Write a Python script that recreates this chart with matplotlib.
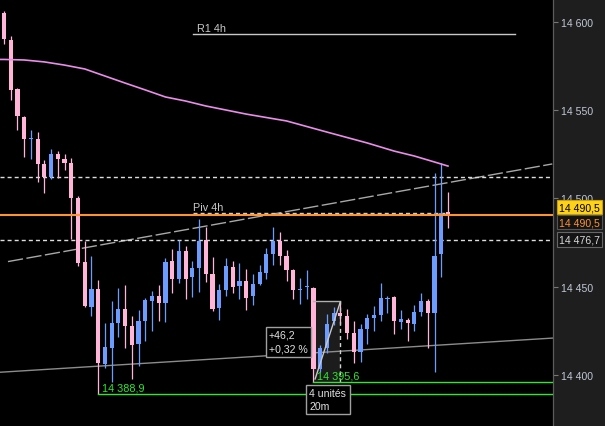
import matplotlib
matplotlib.use("Agg")
import matplotlib.pyplot as plt
from matplotlib.patches import Rectangle
from matplotlib.transforms import blended_transform_factory
from matplotlib.ticker import FuncFormatter, FixedLocator

plt.rcParams['font.family'] = ['Liberation Sans', 'DejaVu Sans']

# ---- candle data (5 min bars) ----
opens = [14605.3, 14589.9, 14562.1, 14546.2, 14533.6, 14533.8, 14519.6, 14512.2, 14525.2, 14522.4,
         14520.1, 14500.3, 14463.9, 14438.6, 14448.6, 14406.1, 14415.1, 14429.3, 14437.3, 14427.6,
         14417.4, 14430.5, 14441.8, 14444.7, 14440.7, 14464.5, 14454.3, 14470.2, 14455.4, 14460.5,
         14476.4, 14457.1, 14437.8, 14448.1, 14461.1, 14450.3, 14453.2, 14444.7, 14451.5, 14457.7,
         14468.5, 14475.9, 14467.4, 14459.4, 14448.3, 14449.5, 14449.2, 14403.2, 14415.1, 14430.5,
         14435.0, 14433.3, 14423.7, 14412.9, 14425.9, 14432.2, 14433.9, 14443.2, 14444.1, 14429.9,
         14431.0, 14428.8, 14435.6, 14441.8, 14435.0, 14468.5, 14492.3]
highs = [14606.4, 14592.2, 14562.5, 14546.8, 14538.9, 14537.9, 14521.8, 14528.1, 14526.9, 14525.2,
         14523.0, 14501.4, 14476.0, 14467.4, 14453.7, 14429.3, 14441.8, 14449.2, 14450.9, 14433.5,
         14436.7, 14443.5, 14447.5, 14450.9, 14466.2, 14471.3, 14476.4, 14473.0, 14464.5, 14488.4,
         14483.8, 14466.8, 14451.5, 14466.2, 14464.5, 14463.4, 14460.0, 14457.1, 14462.3, 14471.9,
         14483.8, 14481.0, 14470.8, 14460.0, 14454.9, 14459.4, 14449.8, 14416.8, 14434.4, 14438.4,
         14441.8, 14437.3, 14430.5, 14428.8, 14434.4, 14439.0, 14452.0, 14444.7, 14444.7, 14436.7,
         14432.2, 14439.6, 14446.4, 14443.0, 14514.5, 14520.1, 14503.7]
lows = [14587.7, 14556.1, 14539.0, 14523.7, 14522.4, 14509.5, 14503.1, 14511.0, 14511.6, 14516.2,
        14477.0, 14461.7, 14438.4, 14433.5, 14388.9, 14403.8, 14395.8, 14421.4, 14415.1, 14397.6,
        14405.1, 14419.1, 14424.8, 14430.5, 14429.9, 14446.4, 14452.0, 14443.0, 14444.1, 14446.9,
        14452.6, 14436.1, 14431.0, 14444.7, 14446.4, 14443.0, 14436.7, 14439.6, 14450.9, 14454.3,
        14462.3, 14462.3, 14453.2, 14443.0, 14440.1, 14443.0, 14395.6, 14401.5, 14412.3, 14428.2,
        14428.8, 14420.3, 14406.6, 14407.2, 14417.4, 14424.8, 14430.5, 14435.0, 14423.1, 14425.9,
        14419.1, 14424.8, 14433.3, 14415.1, 14401.5, 14455.4, 14483.2]
closes = [14590.5, 14561.7, 14547.0, 14533.9, 14534.0, 14519.6, 14512.4, 14525.2, 14522.4, 14520.1,
          14500.3, 14463.4, 14439.2, 14448.6, 14406.6, 14415.7, 14429.3, 14437.3, 14427.8, 14416.8,
          14430.5, 14442.4, 14444.7, 14440.7, 14463.9, 14454.3, 14470.2, 14454.3, 14460.5, 14475.9,
          14457.1, 14437.3, 14448.1, 14461.7, 14449.8, 14453.2, 14443.5, 14451.5, 14458.3, 14468.5,
          14475.9, 14467.4, 14459.4, 14448.1, 14448.6, 14449.8, 14403.2, 14415.1, 14428.8, 14435.0,
          14433.3, 14423.7, 14412.9, 14425.9, 14432.2, 14433.9, 14443.5, 14443.5, 14430.5, 14431.6,
          14429.3, 14435.6, 14441.8, 14435.0, 14467.4, 14491.8, 14490.5]

# moving average (read at some bars)
ma_idx = [-0.6, 0, 3, 6, 9, 12, 15, 18, 21, 24, 27, 30, 36, 42, 48, 54, 58, 61, 64, 66]
ma_val = [14578.9, 14578.9, 14578.6, 14577.5, 14575.7, 14573.5, 14569.5, 14565.5, 14561.6, 14557.6,
          14555.3, 14552.5, 14547.9, 14544.0, 14537.7, 14531.5, 14526.9, 14524.1, 14520.7, 14518.4]

# levels
r1_level = 14593.3
piv_level = 14491.5
last_price = 14490.5
dash_hi = 14512.0
dash_lo = 14476.7
low_a_idx, low_a = 14, 14388.9
low_b_idx, low_b = 46, 14395.6
meas_end_idx, meas_hi = 50, 14441.8
meas_units = "4 unités"
meas_tf = "20m"
trend_dash_x = [0.59, 81.5]
trend_dash_y = [14464.2, 14519.6]
trend_solid_x = [-0.6, 81.6]
trend_solid_y = [14401.4, 14420.8]
price_ticks = [14400, 14450, 14500, 14550, 14600]

PINK = '#ffb4d8'
BLUE = '#6c9cff'

W, H = 605, 427
fig = plt.figure(figsize=(W / 100, H / 100), dpi=100, facecolor='#1e1e1e')
ax = fig.add_axes([0, 0, 553 / W, 1])
ax.set_facecolor('black')
ax.set_xlim(-0.595, 81.61)
ax.set_ylim(14370.9, 14613.2)


def fmt(v, dec=1):
    s = f"{v:,.{dec}f}"
    return s.replace(",", " ").replace(".", ",")


# moving average
ax.plot(ma_idx, ma_val, color='#e98de9', lw=1.2, zorder=3)

# horizontal levels
ax.plot([28.1, 76], [r1_level, r1_level], color='#c8c8c8', lw=1, zorder=2)
ax.annotate("R1 4h", xy=(28.7, r1_level), xytext=(0, 3), textcoords='offset pixels',
            color='#c8c8c8', fontsize=7.8, va='baseline', ha='left')
ax.plot([28.1, 65.5], [piv_level, piv_level], color='#d0d0d0', lw=1, ls=(0, (2.9, 2.2)), zorder=2)
ax.annotate("Piv 4h", xy=(28.1, piv_level), xytext=(0, 3), textcoords='offset pixels',
            color='#c8c8c8', fontsize=7.8, va='baseline', ha='left')
for lv in (dash_hi, dash_lo):
    ax.axhline(lv, color='#dddddd', lw=1, ls=(0, (2.9, 2.2)), zorder=2)
ax.axhline(last_price, color='#ff9330', lw=1.5, zorder=4)

# trend lines
ax.plot(trend_dash_x, trend_dash_y, color='#a8a8a8', lw=1, ls=(0, (11, 2.5)), zorder=1.5)
ax.plot(trend_solid_x, trend_solid_y, color='#8c8c8c', lw=1, zorder=1.5)

# measurement rectangle
ax.add_patch(Rectangle((low_b_idx, low_b), meas_end_idx - low_b_idx, meas_hi - low_b,
                       facecolor='#1c1c1c', edgecolor='none', zorder=1))

# candles
for i, (o, h, l, c) in enumerate(zip(opens, highs, lows, closes)):
    col = BLUE if c >= o else PINK
    ax.plot([i, i], [l, h], color=col, lw=0.9, zorder=2.2, solid_capstyle='butt')
    ax.bar(i, max(abs(c - o), 0.6), bottom=min(o, c), width=0.62, color=col,
           linewidth=0, zorder=2.3)

# measurement overlays
ax.plot([low_b_idx, meas_end_idx], [meas_hi, meas_hi], color='#b0b0b0', lw=1, zorder=3)
ax.plot([meas_end_idx, meas_end_idx], [low_b, meas_hi], color='#d0d0d0', lw=1,
        ls=(0, (2.9, 2.2)), zorder=3)
ax.plot([low_b_idx + 0.25, meas_end_idx - 0.05], [low_b + 2, meas_hi - 1], color='#c8c8c8',
        lw=1, zorder=3)
diff = meas_hi - low_b
pct = diff / low_b * 100
ax.annotate(f"+{fmt(diff)}\n+{fmt(pct, 2)} %", xy=(low_b_idx, (low_b + meas_hi) / 2),
            xytext=(-6, 0), textcoords='offset pixels', ha='right', va='center',
            multialignment='left', color='#e0e0e0', fontsize=7.6, linespacing=1.45,
            bbox=dict(boxstyle='square,pad=0.3', fc='black', ec='#a0a0a0', lw=1), zorder=6)
ax.annotate(f"{meas_units}\n{meas_tf}", xy=((low_b_idx + meas_end_idx) / 2, low_b),
            xytext=(1, -6), textcoords='offset pixels', ha='center', va='top',
            multialignment='left', color='#e0e0e0', fontsize=7.6, linespacing=1.3,
            bbox=dict(boxstyle='square,pad=0.3', fc='black', ec='#a0a0a0', lw=1), zorder=6)

# lows
GREEN = '#2ee82e'
for idx, lv in ((low_a_idx, low_a), (low_b_idx, low_b)):
    ax.plot([idx, 81.7], [lv, lv], color=GREEN, lw=1, zorder=4)
    ax.annotate(fmt(lv), xy=(idx + 0.55, lv), xytext=(0, 4), textcoords='offset pixels',
                color=GREEN, fontsize=7.8, va='baseline', ha='left', zorder=6)

# axes styling
for s in ('left', 'top', 'bottom'):
    ax.spines[s].set_visible(False)
ax.spines['right'].set_color('#5c5c5c')
ax.spines['right'].set_linewidth(0.9)
ax.set_xticks([])
ax.yaxis.tick_right()
ax.yaxis.set_major_locator(FixedLocator(price_ticks))
ax.yaxis.set_major_formatter(FuncFormatter(lambda v, p: fmt(v, 0)))
ax.tick_params(axis='y', direction='out', length=3.5, width=0.8, color='#777777',
               labelcolor='#c0c8d6', labelsize=7.6, pad=2.5)

# price boxes on the scale
trans = blended_transform_factory(ax.transAxes, ax.transData)


def price_box(price, dy, fc, ec, tc):
    ax.annotate(fmt(price), xy=(1, price), xycoords=trans, xytext=(6, dy),
                textcoords='offset pixels', ha='left', va='center', fontsize=7.6, color=tc,
                bbox=dict(boxstyle='square,pad=0.2', fc=fc, ec=ec, lw=0.8),
                annotation_clip=False, zorder=10)


price_box(last_price, 8, '#ffd21a', '#c8a000', 'black')
price_box(last_price, -7, '#141414', '#555555', '#ff9330')
price_box(dash_lo, 0, '#141414', '#666666', '#d8d8d8')

fig.savefig("out.png", dpi=100, facecolor=fig.get_facecolor())
